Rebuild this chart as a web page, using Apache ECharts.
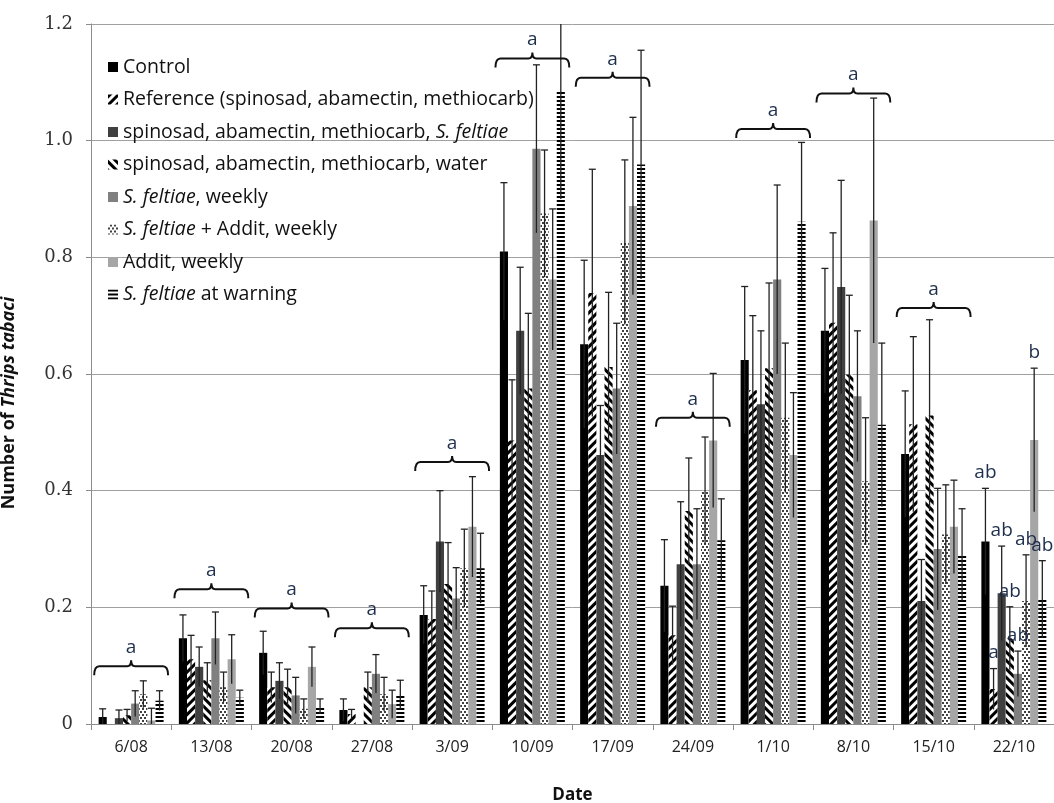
<!DOCTYPE html>
<html>
<head>
    <meta charset="utf-8">
    <title>Thrips tabaci</title>
    <script src="https://cdn.jsdelivr.net/npm/echarts@6/dist/echarts.min.js"></script>
</head>
<body style="margin:0">
    <div id="main" style="width: 1054px;height:803px;"></div>
    <script>
        var dates = ['6/08', '13/08', '20/08', '27/08', '3/09', '10/09', '17/09', '24/09', '1/10', '8/10', '15/10', '22/10'];

        var names = [
            'Control',
            'Reference (spinosad, abamectin, methiocarb)',
            'spinosad, abamectin, methiocarb, S. feltiae',
            'spinosad, abamectin, methiocarb, water',
            'S. feltiae, weekly',
            'S. feltiae + Addit, weekly',
            'Addit, weekly',
            'S. feltiae at warning'
        ];

        // means
        var control = [0.012, 0.147, 0.122, 0.024, 0.187, 0.810, 0.651, 0.237, 0.624, 0.674, 0.463, 0.313];
        var reference = [0.0, 0.111, 0.063, 0.017, 0.180, 0.486, 0.739, 0.152, 0.572, 0.688, 0.514, 0.060];
        var chemSf = [0.010, 0.098, 0.074, 0.0, 0.313, 0.674, 0.461, 0.274, 0.548, 0.749, 0.211, 0.224];
        var chemWater = [0.015, 0.075, 0.063, 0.063, 0.240, 0.575, 0.612, 0.365, 0.610, 0.599, 0.529, 0.147];
        var sfWeekly = [0.035, 0.147, 0.049, 0.086, 0.215, 0.986, 0.575, 0.274, 0.762, 0.562, 0.300, 0.086];
        var sfAddit = [0.051, 0.063, 0.026, 0.051, 0.267, 0.875, 0.826, 0.400, 0.525, 0.416, 0.325, 0.211];
        var addit = [0.006, 0.111, 0.098, 0.034, 0.338, 0.762, 0.888, 0.486, 0.461, 0.863, 0.338, 0.487];
        var sfWarning = [0.040, 0.045, 0.030, 0.050, 0.267, 1.085, 0.959, 0.315, 0.861, 0.513, 0.290, 0.214];

        // standard errors
        var controlErr = [0.014, 0.040, 0.037, 0.019, 0.050, 0.118, 0.144, 0.079, 0.126, 0.107, 0.108, 0.091];
        var referenceErr = [0.0, 0.041, 0.026, 0.008, 0.048, 0.104, 0.212, 0.050, 0.128, 0.154, 0.150, 0.035];
        var chemSfErr = [0.014, 0.034, 0.031, 0.0, 0.087, 0.109, 0.085, 0.107, 0.126, 0.183, 0.071, 0.081];
        var chemWaterErr = [0.010, 0.030, 0.031, 0.026, 0.071, 0.129, 0.128, 0.091, 0.146, 0.136, 0.164, 0.054];
        var sfWeeklyErr = [0.022, 0.045, 0.031, 0.033, 0.053, 0.144, 0.112, 0.095, 0.162, 0.112, 0.104, 0.039];
        var sfAdditErr = [0.023, 0.026, 0.017, 0.029, 0.067, 0.109, 0.141, 0.092, 0.128, 0.109, 0.085, 0.079];
        var additErr = [0.021, 0.042, 0.034, 0.024, 0.086, 0.121, 0.152, 0.115, 0.107, 0.210, 0.080, 0.123];
        var sfWarningErr = [0.017, 0.013, 0.013, 0.025, 0.060, 0.185, 0.196, 0.071, 0.136, 0.140, 0.079, 0.066];

        // group brackets (dates 6/08 .. 15/10) and letters
        var bracketLevel = [0.099, 0.231, 0.198, 0.164, 0.449, 1.141, 1.108, 0.525, 1.020, 1.081, 0.713];
        var bracketLetter = ['a', 'a', 'a', 'a', 'a', 'a', 'a', 'a', 'a', 'a', 'a'];
        // per-treatment letters on 22/10
        var lastLetters = ['ab', 'a', 'ab', 'ab', 'ab', 'ab', 'b', 'ab'];

        var means = [control, reference, chemSf, chemWater, sfWeekly, sfAddit, addit, sfWarning];
        var errs = [controlErr, referenceErr, chemSfErr, chemWaterErr, sfWeeklyErr, sfAdditErr, additErr, sfWarningErr];

        var fills = ['#000000', '#ffffff', '#404040', '#ffffff', '#808080', '#ffffff', '#a6a6a6', '#ffffff'];
        var decals = [
            null,
            { symbol: 'rect', color: '#000', dashArrayX: [1, 0], dashArrayY: [2.4, 2.6], rotation: -Math.PI / 4 },
            null,
            { symbol: 'rect', color: '#000', dashArrayX: [1, 0], dashArrayY: [2.4, 2.6], rotation: Math.PI / 4 },
            null,
            { symbol: 'circle', symbolSize: 1, color: '#000', dashArrayX: [[1.8, 1.4], [0, 1.6, 1.8, 0]], dashArrayY: [1.8, 0.4] },
            null,
            { symbol: 'rect', color: '#000', dashArrayX: [1, 0], dashArrayY: [1.7, 1.7], rotation: 0 }
        ];

        var YMAX = 1.2;
        var NBARS = 8;
        var CATGAP = 0.19;
        var letterColor = '#1e2f4d';
        var letterFont = '19px "Open Sans"';

        function barX(api, k, si) {
            var bw = api.size([1, 0])[0] * (1 - CATGAP) / NBARS;
            return api.coord([k, 0])[0] + (si - (NBARS - 1) / 2) * bw;
        }

        var series = [];
        means.forEach(function (vals, si) {
            var item = { color: fills[si] };
            if (decals[si]) item.decal = decals[si];
            series.push({
                name: names[si],
                type: 'bar',
                barGap: '0%',
                barCategoryGap: (CATGAP * 100) + '%',
                itemStyle: item,
                emphasis: { disabled: true },
                data: vals
            });
        });

        // error bars
        means.forEach(function (vals, si) {
            series.push({
                type: 'custom',
                name: 'err' + si,
                coordinateSystem: 'cartesian2d',
                silent: true,
                z: 3,
                encode: { x: 0, y: 1 },
                data: vals.map(function (v, k) { return [k, v, errs[si][k]]; }),
                renderItem: function (params, api) {
                    var k = api.value(0), v = api.value(1), e = api.value(2);
                    if (!e) return;
                    var x = barX(api, k, si);
                    var hiV = Math.min(v + e, YMAX);
                    var yHi = api.coord([k, hiV])[1];
                    var yLo = api.coord([k, Math.max(v - e, 0)])[1];
                    var st = { stroke: '#222', lineWidth: 1.3 };
                    var ch = [{ type: 'line', shape: { x1: x, y1: yLo, x2: x, y2: yHi }, style: st }];
                    if (v + e <= YMAX) {
                        ch.push({ type: 'line', shape: { x1: x - 3.5, y1: yHi, x2: x + 3.5, y2: yHi }, style: st });
                    }
                    return { type: 'group', children: ch };
                }
            });
        });

        // brackets with letters
        series.push({
            type: 'custom',
            name: 'brackets',
            coordinateSystem: 'cartesian2d',
            silent: true,
            z: 4,
            encode: { x: 0, y: 1 },
            data: bracketLevel.map(function (y, k) { return [k, y, bracketLetter[k]]; }),
            renderItem: function (params, api) {
                var k = api.value(0);
                var p = api.coord([k, api.value(1)]);
                var hw = api.size([1, 0])[0] * 0.46;
                var c = p[0], y = p[1], x0 = c - hw, x1 = c + hw;
                var d = 'M' + x0 + ',' + (y + 9) + ' Q' + x0 + ',' + y + ' ' + (x0 + 5) + ',' + y +
                    ' L' + (c - 4) + ',' + y + ' Q' + c + ',' + y + ' ' + c + ',' + (y - 6) +
                    ' Q' + c + ',' + y + ' ' + (c + 4) + ',' + y +
                    ' L' + (x1 - 5) + ',' + y + ' Q' + x1 + ',' + y + ' ' + x1 + ',' + (y + 9);
                return {
                    type: 'group',
                    children: [
                        { type: 'path', shape: { pathData: d }, style: { stroke: '#111', lineWidth: 2, fill: null } },
                        {
                            type: 'text', x: c, y: y - 9,
                            style: { text: bracketLetter[k], fill: letterColor, font: letterFont, align: 'center', verticalAlign: 'bottom' }
                        }
                    ]
                };
            }
        });

        // letters above each treatment on the last date
        var lastIdx = dates.length - 1;
        series.push({
            type: 'custom',
            name: 'lastLetters',
            coordinateSystem: 'cartesian2d',
            silent: true,
            z: 5,
            encode: { x: 0, y: 1 },
            data: lastLetters.map(function (t, si) { return [lastIdx, means[si][lastIdx] + errs[si][lastIdx], si]; }),
            renderItem: function (params, api) {
                var si = api.value(2);
                var x = barX(api, lastIdx, si);
                var y = api.coord([lastIdx, api.value(1)])[1];
                return {
                    type: 'text', x: x, y: y - 6,
                    style: { text: lastLetters[si], fill: letterColor, font: letterFont, align: 'center', verticalAlign: 'bottom' }
                };
            }
        });

        function legendText(name) {
            return '{n|' + name.replace('S. feltiae', '}{i|S. feltiae}{n|') + '}';
        }

        var myChart = echarts.init(document.getElementById('main'));
        var option = {
            animation: false,
            backgroundColor: '#ffffff',
            grid: { left: 91, right: 0, top: 24, bottom: 79, outerBoundsMode: 'none', containLabel: false },
            legend: {
                data: names,
                orient: 'vertical',
                left: 103,
                top: 52,
                itemWidth: 10,
                itemHeight: 10,
                itemGap: 12.5,
                icon: 'rect',
                selectedMode: false,
                formatter: legendText,
                textStyle: {
                    rich: {
                        n: { fontFamily: 'Open Sans', fontSize: 19.5, color: '#111', lineHeight: 22 },
                        i: { fontFamily: 'Open Sans', fontSize: 19.5, fontStyle: 'italic', color: '#111', lineHeight: 22 }
                    }
                }
            },
            xAxis: {
                type: 'category',
                data: dates,
                name: 'Date',
                nameLocation: 'middle',
                nameGap: 63,
                nameTextStyle: { fontFamily: 'Open Sans', fontSize: 17, fontWeight: 'bold', color: '#111' },
                axisLine: { lineStyle: { color: '#8c8c8c' } },
                axisTick: { show: true, length: 6, lineStyle: { color: '#8c8c8c' } },
                axisLabel: { fontFamily: 'Open Sans', fontSize: 16, color: '#222', margin: 15, interval: 0 }
            },
            yAxis: {
                type: 'value',
                min: 0,
                max: 1.2,
                interval: 0.2,
                name: '{b|Number of }{bi|Thrips tabaci}',
                nameLocation: 'middle',
                nameGap: 73,
                nameTextStyle: {
                    padding: [0, 58, 0, 0],
                    rich: {
                        b: { fontFamily: 'Open Sans', fontSize: 18, fontWeight: 'bold', color: '#111' },
                        bi: { fontFamily: 'Open Sans', fontSize: 18, fontWeight: 'bold', fontStyle: 'italic', color: '#111' }
                    }
                },
                axisLine: { show: true, lineStyle: { color: '#8c8c8c' } },
                axisTick: { show: true, length: 5, lineStyle: { color: '#8c8c8c' } },
                splitLine: { lineStyle: { color: '#a0a0a0' } },
                axisLabel: {
                    fontFamily: 'DejaVu Serif',
                    fontSize: 18,
                    color: '#333',
                    margin: 18,
                    formatter: function (v) { return v === 0 ? '0' : v.toFixed(1); }
                }
            },
            series: series
        };
        myChart.setOption(option);
    </script>
</body>
</html>
